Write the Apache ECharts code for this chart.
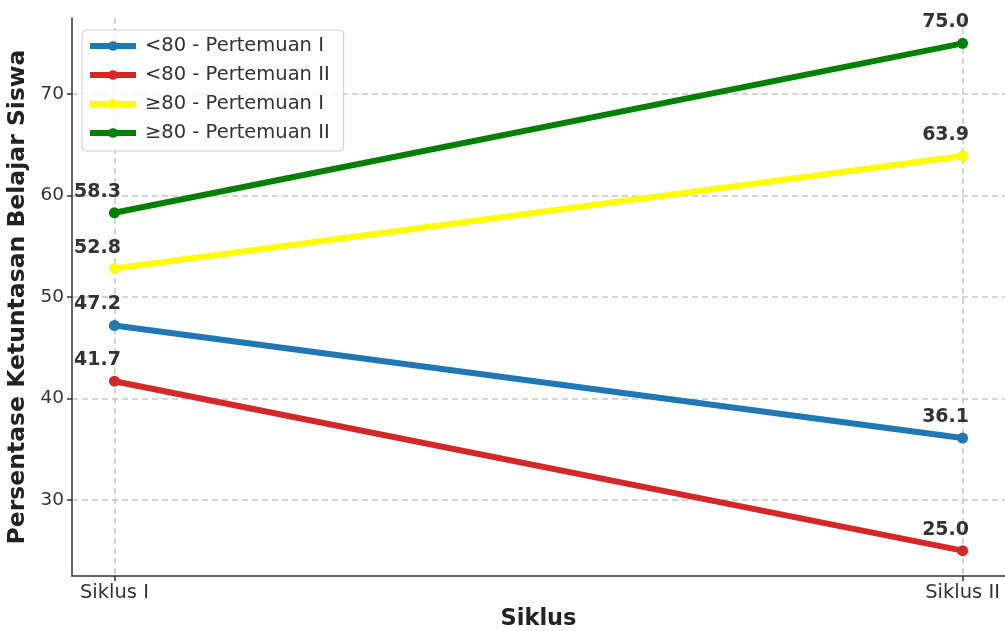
<!DOCTYPE html>
<html>
<head>
<meta charset="utf-8">
<script src="https://cdn.jsdelivr.net/npm/echarts@6/dist/echarts.min.js"></script>
<style>html,body{margin:0;padding:0;background:#fff}#c{width:1005px;height:631px}</style>
</head>
<body>
<div id="c"></div>
<script>
const categories = ['Siklus I', 'Siklus II'];
const seriesNames = ['<80 - Pertemuan I', '<80 - Pertemuan II', '≥80 - Pertemuan I', '≥80 - Pertemuan II'];
const below80P1 = [47.2, 36.1];
const below80P2 = [41.7, 25.0];
const above80P1 = [52.8, 63.9];
const above80P2 = [58.3, 75.0];
const yTicks = [30, 40, 50, 60, 70];
const colors = ['#1f77b4', '#d62728', '#ffff00', '#008000'];
const FONT = 'DejaVu Sans';

const allValues = [below80P1, below80P2, above80P1, above80P2];
const xIdx = categories.map((c, i) => i);

const chart = echarts.init(document.getElementById('c'), null, {renderer: 'canvas'});
const series = allValues.map((vals, s) => ({
  name: seriesNames[s],
  type: 'line',
  data: vals.map((v, i) => [xIdx[i], v]),
  symbol: 'circle',
  symbolSize: 11,
  lineStyle: {width: 6, color: colors[s]},
  itemStyle: {color: colors[s]},
  label: {
    show: true,
    position: 'top',
    offset: [-17, -1],
    formatter: p => p.value[1].toFixed(1),
    fontFamily: FONT,
    fontWeight: 'bold',
    fontSize: 19,
    color: '#333'
  },
  emphasis: {disabled: true},
  animation: false
}));

chart.setOption({
  animation: false,
  textStyle: {fontFamily: FONT},
  grid: {left: 72, right: 0, top: 18, bottom: 55, containLabel: false, outerBoundsMode: 'none'},
  legend: {
    show: true,
    left: 82,
    top: 30,
    orient: 'vertical',
    itemWidth: 46,
    itemHeight: 12,
    itemGap: 9,
    padding: [6, 14, 8, 5],
    borderColor: '#cccccc',
    borderWidth: 1,
    borderRadius: 4,
    backgroundColor: 'rgba(255,255,255,0.8)',
    lineStyle: {width: 6},
    textStyle: {fontFamily: FONT, fontSize: 19.5, color: '#333', padding: [0, 0, 0, 4], lineHeight: 20},
    data: seriesNames
  },
  xAxis: {
    type: 'value',
    min: -0.05,
    max: 1.05,
    name: 'Siklus',
    nameLocation: 'middle',
    nameGap: 32,
    nameTextStyle: {fontFamily: FONT, fontWeight: 'bold', fontSize: 22.5, color: '#222'},
    axisLine: {show: true, onZero: false, lineStyle: {color: '#333', width: 1.5}},
    axisTick: {show: true, customValues: xIdx, length: 5, lineStyle: {color: '#333', width: 1.5}},
    axisLabel: {customValues: xIdx, formatter: v => categories[Math.round(v)] || '', fontFamily: FONT, fontSize: 19.5, color: '#333', margin: 7},
    splitLine: {show: true, lineStyle: {color: '#c8c8c8', type: [6, 4], width: 1.5}}
  },
  yAxis: {
    type: 'value',
    min: 22.5,
    max: 77.5,
    name: 'Persentase Ketuntasan Belajar Siswa',
    nameLocation: 'middle',
    nameGap: 31,
    nameTextStyle: {fontFamily: FONT, fontWeight: 'bold', fontSize: 23.5, color: '#222'},
    axisLine: {show: true, onZero: false, lineStyle: {color: '#333', width: 1.5}},
    axisTick: {show: true, customValues: yTicks, length: 5, lineStyle: {color: '#333', width: 1.5}},
    axisLabel: {customValues: yTicks, fontFamily: FONT, fontSize: 18.5, color: '#333', margin: 8},
    splitLine: {show: true, lineStyle: {color: '#c8c8c8', type: [6, 4], width: 1.5}}
  },
  series: series
});
</script>
</body>
</html>
